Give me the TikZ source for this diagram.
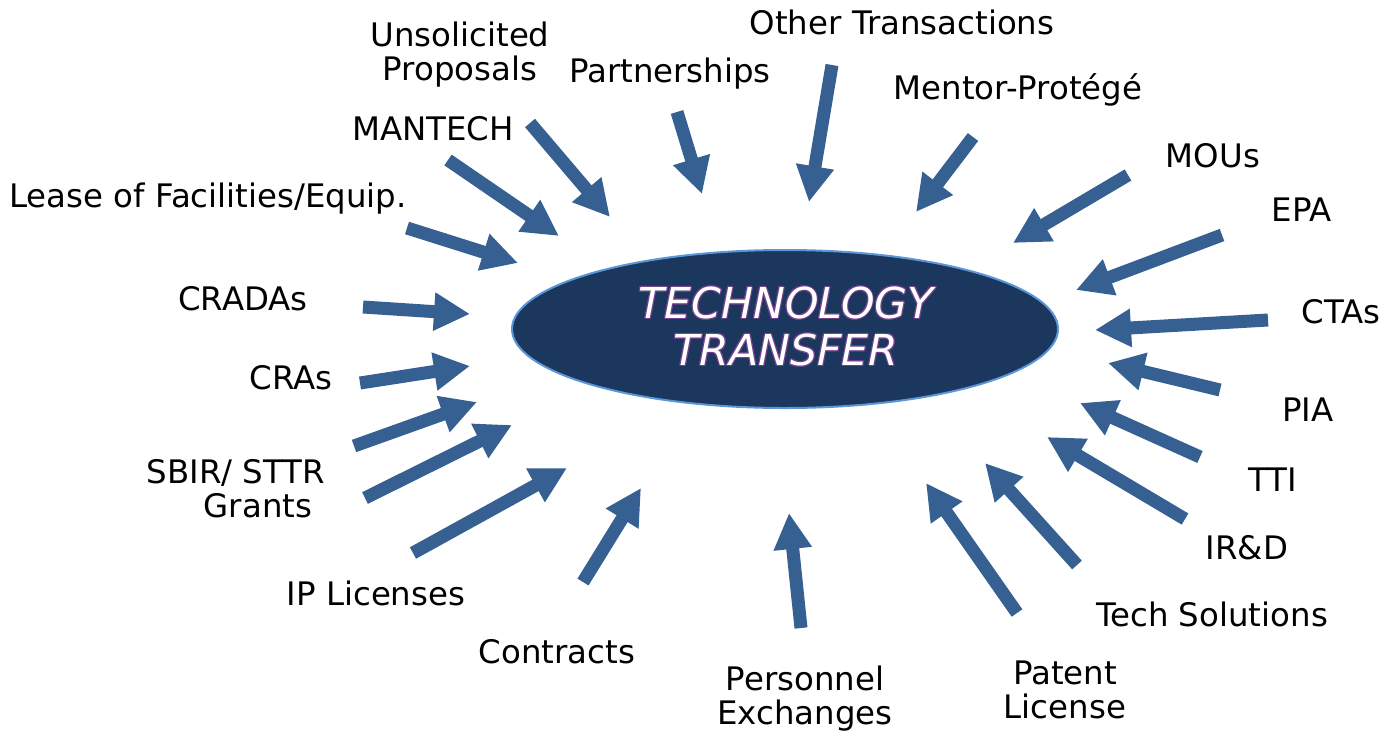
\documentclass[tikz,border=0pt]{standalone}
\usepackage{fontspec}
\setmainfont{DejaVu Sans}
\usepackage{contour}
\usetikzlibrary{arrows.meta,shapes.geometric}
\definecolor{feedblue}{RGB}{54,96,146}
\definecolor{hubnavy}{RGB}{27,55,93}
\definecolor{hubedge}{RGB}{91,150,215}
\definecolor{glow}{RGB}{112,64,140}
\contourlength{0.5pt}

\begin{document}
\begin{tikzpicture}[x=0.5pt,y=-0.5pt]
\tikzstyle{every node}=[font=\fontsize{16.2}{17}\selectfont,align=center,inner sep=0pt];
\tikzstyle{feed}=[draw=feedblue,line width=6.5pt,-{Triangle[width=18pt,length=18pt]}];
\useasboundingbox (0,0) rectangle (1385,734);

\node[ellipse,fill=hubnavy,draw=hubedge,line width=1pt,minimum width=273pt,minimum height=79pt]
  (hub) at (785,329) {};
\node[font=\fontsize{21.3}{23.5}\selectfont\itshape,text=white] (title) at (786,327)
  {\contour{glow}{TECHNOLOGY}\\\contour{glow}{TRANSFER}};

% labels round the hub
\node (unsol) at (460,55) {Unsolicited\\Proposals};
\node (partner) at (670,74) {Partnerships};
\node (other) at (902,22) {Other Transactions};
\node (mentor) at (1018,90) {Mentor-Protégé};
\node (mou) at (1213,156) {MOUs};
\node (epa) at (1302,210) {EPA};
\node (cta) at (1341,312) {CTAs};
\node (pia) at (1308,410) {PIA};
\node (tti) at (1273,480) {TTI};
\node (ird) at (1247,548) {IR\&D};
\node (techsol) at (1212,614) {Tech Solutions};
\node (patent) at (1065,690) {Patent\\License};
\node (personnel) at (805,699) {Personnel\\Exchanges};
\node (contracts) at (557,652) {Contracts};
\node (iplic) at (376,593) {IP Licenses};
\node (sbir) at (236,489) {SBIR/ STTR\\\hspace*{22pt}Grants};
\node (cras) at (291,378) {CRAs};
\node (cradas) at (243,299) {CRADAs};
\node (lease) at (208,199) {Lease of Facilities/Equip.};
\node (mantech) at (433,129) {MANTECH};

% arrows into the hub
\foreach \name/\tx/\ty/\hx/\hy in {
  unsol/530/123/610/217, mantech/448/160/559/236, lease/407/228/518/263,
  cradas/363/307/470/314, cras/360/383/470/366, sbirA/354/446/477/402,
  sbirB/365/498/512/425, iplic/413/553/567/468, contracts/583/582/641/488,
  personnel/801/628/789/513, patent/1017/613/926/483, techsol/1077/565/985/463,
  ird/1185/519/1047/437, tti/1200/457/1080/403, pia/1220/390/1108/363,
  cta/1268/320/1095/330, epa/1222/235/1076/290, mou/1128/175/1013/243,
  mentor/973/137/916/212, other/832/65/809/202, partner/677/112/702/194}{
  \coordinate (\name-from) at (\tx,\ty);
  \coordinate (\name-to) at (\hx,\hy);
  \draw[feed] (\name-from) -- (\name-to);
}
\end{tikzpicture}
\end{document}
